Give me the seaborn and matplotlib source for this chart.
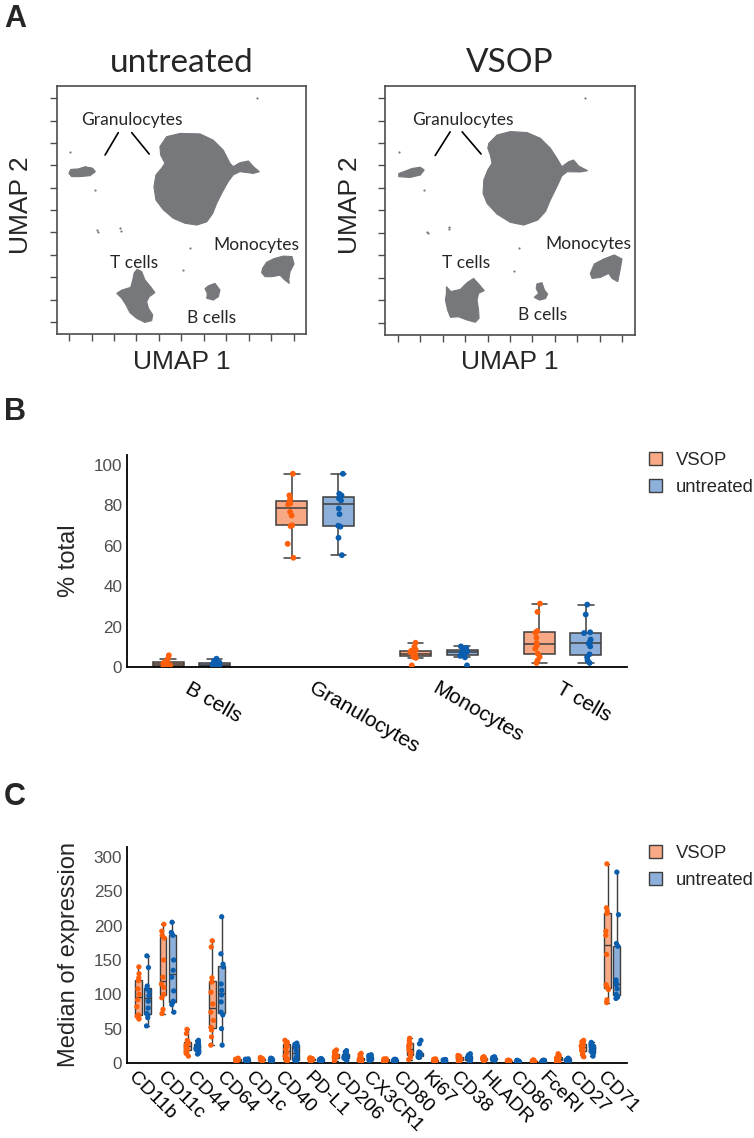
import numpy as np
import pandas as pd
import matplotlib
matplotlib.use("Agg")
import matplotlib.pyplot as plt
from matplotlib.patches import Patch
from matplotlib.transforms import ScaledTranslation
import seaborn as sns

# ---------------- panel A : UMAP cluster outlines (UMAP units, axes 0-10) ----------------
untr_gran_big = [(4.14, 7.56), (4.41, 7.96), (4.95, 8.09), (5.75, 8.07), (6.28, 7.82), (6.68, 7.42),
                 (6.95, 6.89), (7.08, 6.75), (7.35, 6.91), (7.69, 6.98), (7.89, 6.75), (8.13, 6.55),
                 (7.89, 6.48), (7.35, 6.55), (7.08, 6.42), (6.88, 6.15), (6.62, 5.68), (6.42, 5.28),
                 (6.26, 4.87), (6.02, 4.53), (5.62, 4.40), (5.15, 4.47), (4.68, 4.67), (4.28, 5.01),
                 (3.98, 5.41), (3.90, 5.94), (3.98, 6.42), (4.21, 6.69), (4.34, 6.89), (4.17, 7.22)]
untr_gran_small = [(0.49, 6.48), (0.56, 6.64), (0.87, 6.66), (1.14, 6.75), (1.44, 6.69), (1.55, 6.55),
                   (1.34, 6.39), (0.93, 6.35), (0.60, 6.35)]
untr_tcells = [(3.23, 2.62), (3.41, 2.52), (3.54, 2.19), (3.74, 1.95), (3.94, 1.68), (3.71, 1.51),
               (3.61, 1.31), (3.68, 1.05), (3.85, 0.78), (3.81, 0.55), (3.54, 0.48), (3.21, 0.64),
               (2.94, 0.87), (2.78, 1.18), (2.61, 1.45), (2.41, 1.65), (2.61, 1.78), (2.97, 1.89),
               (3.05, 2.19), (3.11, 2.48)]
untr_monocytes = [(8.26, 2.66), (8.42, 2.90), (8.72, 3.05), (9.09, 3.15), (9.44, 3.13), (9.52, 2.83),
                  (9.36, 2.52), (9.31, 2.21), (9.33, 2.05), (9.12, 2.21), (8.96, 2.38), (8.62, 2.32),
                  (8.36, 2.32), (8.22, 2.48)]
untr_bcells = [(6.08, 1.95), (6.35, 2.05), (6.55, 1.78), (6.48, 1.51), (6.28, 1.38), (6.02, 1.45),
               (6.04, 1.65), (5.95, 1.84)]
untr_specks = [(1.60, 4.20), (1.66, 4.14), (2.54, 4.27), (2.56, 4.18), (5.08, 2.59), (8.02, 9.50),
               (0.53, 7.35), (1.54, 5.81), (5.35, 3.46)]

vsop_gran_big = [(4.15, 7.69), (4.48, 8.02), (5.01, 8.16), (5.68, 8.12), (6.22, 7.89), (6.62, 7.49),
                 (6.88, 7.09), (7.08, 6.75), (7.35, 6.95), (7.55, 7.02), (7.75, 6.78), (8.11, 6.59),
                 (7.82, 6.54), (7.29, 6.55), (7.08, 6.38), (6.88, 5.95), (6.62, 5.42), (6.42, 4.95),
                 (6.11, 4.61), (5.55, 4.41), (5.01, 4.52), (4.48, 4.85), (4.08, 5.28), (3.92, 5.68),
                 (3.95, 6.22), (4.11, 6.62), (4.28, 6.89), (4.21, 7.22), (4.11, 7.49)]
vsop_gran_small = [(0.54, 6.48), (0.74, 6.55), (1.07, 6.68), (1.40, 6.73), (1.56, 6.62), (1.41, 6.42),
                   (1.00, 6.32), (0.54, 6.35)]
vsop_tcells = [(2.45, 1.94), (2.63, 1.74), (3.01, 1.83), (3.28, 2.10), (3.54, 2.27), (3.74, 2.05),
               (3.97, 1.78), (3.74, 1.67), (3.68, 1.40), (3.74, 1.00), (3.76, 0.67), (3.61, 0.51),
               (3.28, 0.60), (2.94, 0.73), (2.61, 0.71), (2.50, 1.00), (2.41, 1.40), (2.45, 1.67)]
vsop_monocytes = [(8.22, 2.47), (8.38, 2.85), (8.76, 3.05), (9.18, 3.21), (9.49, 3.05), (9.42, 2.64),
                  (9.32, 2.14), (9.09, 2.27), (8.96, 2.47), (8.62, 2.31), (8.29, 2.27)]
vsop_bcells = [(6.08, 2.05), (6.28, 2.10), (6.38, 1.81), (6.51, 1.64), (6.42, 1.46), (6.19, 1.40),
               (5.97, 1.51), (6.15, 1.67), (6.05, 1.87)]
vsop_specks = [(1.67, 4.14), (1.72, 4.08), (2.54, 4.34), (2.56, 4.25), (5.15, 2.58), (8.02, 9.49),
               (0.54, 7.35), (1.54, 5.82), (5.35, 3.48)]

# ---------------- panel B : % of total ----------------
b_categories = ["B cells", "Granulocytes", "Monocytes", "T cells"]
b_vsop = [
    [0.2, 0.3, 0.5, 0.7, 0.9, 1.1, 1.4, 1.8, 2.4, 2.7, 4.1, 5.8],
    [54.1, 61.0, 69.8, 70.2, 75.0, 76.8, 80.5, 81.0, 82.0, 83.3, 85.0, 95.7],
    [0.8, 4.5, 5.0, 5.4, 5.8, 6.4, 6.8, 7.3, 8.0, 8.6, 10.0, 12.0],
    [2.0, 3.3, 5.0, 6.6, 9.1, 10.5, 11.9, 14.5, 17.0, 17.8, 27.3, 31.4],
]
b_untreated = [
    [0.2, 0.3, 0.4, 0.6, 0.8, 1.0, 1.2, 1.5, 1.9, 2.2, 3.0, 4.1],
    [55.4, 64.0, 69.5, 70.0, 75.7, 78.5, 82.5, 83.5, 84.0, 85.0, 85.8, 95.7],
    [0.8, 4.8, 5.5, 6.0, 6.5, 7.0, 7.6, 8.0, 8.5, 8.8, 9.5, 10.2],
    [2.0, 3.3, 4.8, 6.3, 10.2, 11.6, 12.2, 13.6, 16.8, 17.2, 26.0, 30.9],
]

# ---------------- panel C : median expression per marker ----------------
c_markers = ["m%02d" % (i + 1) for i in range(20)]
c_tick_labels = ["CD11b", "CD11c", "CD44", "CD64", "CD1c", "CD40", "PD-L1", "CD206", "CX3CR1",
                 "CD80", "Ki67", "CD38", "HLADR", "CD86", "FceRI", "CD27", "CD71"]
c_vsop = [
    [64, 66, 68, 70, 82, 92, 100, 108, 120, 124, 130, 140],
    [72, 78, 95, 100, 110, 115, 125, 150, 182, 186, 192, 202],
    [10, 14, 17, 19, 22, 24, 26, 28, 30, 33, 43, 49],
    [26, 38, 48, 52, 62, 74, 86, 103, 118, 124, 169, 178],
    [2, 3, 3, 3.5, 4, 4, 4.5, 5, 5, 5.5, 6, 7],
    [3, 3.5, 4, 4.5, 5, 5, 5.5, 6, 6, 6.5, 7, 8],
    [3, 4, 5, 6, 10, 15, 20, 24, 27, 28, 30, 33],
    [3, 3.5, 4, 4.5, 5, 5, 5.5, 6, 6, 6.5, 7, 7.5],
    [3, 5, 6, 7, 8, 9, 10, 11, 13, 15, 17, 19],
    [2, 3, 3, 4, 4, 5, 5, 6, 7, 9, 12, 14],
    [2, 3, 3, 3.5, 4, 4, 4.5, 5, 5, 5.5, 6, 6],
    [5, 8, 10, 12, 15, 18, 22, 25, 28, 30, 33, 36],
    [2, 2.5, 3, 3, 3.5, 4, 4, 4.5, 5, 5, 5.5, 6],
    [1.5, 2, 3, 4, 5, 6, 7, 8, 9, 9.5, 10, 11],
    [3, 4, 4.5, 5, 5.5, 6, 6.5, 7, 7.5, 8, 8.5, 9],
    [1, 1.5, 2, 2, 2.5, 2.5, 3, 3, 3.5, 3.5, 4, 4],
    [1, 1.5, 2, 2, 2.5, 3, 3, 3.5, 3.5, 4, 4, 4.5],
    [1.5, 2.5, 3.5, 4.5, 5, 6, 7, 8, 9, 10, 11.5, 13.5],
    [9, 12, 15, 18, 20, 22, 24, 25, 27, 29, 31, 33],
    [88, 92, 107, 110, 114, 158, 186, 192, 218, 221, 226, 290],
]
c_untreated = [
    [54, 66, 70, 72, 80, 90, 98, 104, 108, 112, 139, 156],
    [74, 85, 88, 90, 105, 125, 135, 150, 186, 189, 190, 205],
    [13, 15, 17, 19, 21, 22, 23, 25, 27, 29, 31, 33],
    [26, 50, 70, 74, 89, 99, 106, 115, 140, 144, 159, 213],
    [2, 2.5, 3, 3, 3.5, 4, 4, 4.5, 5, 5, 5.5, 6],
    [2.5, 3, 3.5, 4, 4, 4.5, 5, 5, 5.5, 6, 6.5, 7],
    [3, 4, 4.5, 5, 8, 12, 18, 22, 25, 26, 27, 29],
    [2.5, 3, 3, 3.5, 4, 4, 4.5, 5, 5, 5.5, 6, 6.5],
    [4, 6, 7, 8, 9, 10, 11, 12, 13, 14, 16, 18],
    [3, 4, 5, 5, 6, 6, 7, 8, 9, 10, 11, 12],
    [1.5, 2, 2.5, 3, 3, 3.5, 4, 4, 4.5, 5, 5, 5.5],
    [8, 9, 10, 11, 12, 12, 13, 14, 15, 16, 28, 33],
    [1.5, 2, 2.5, 3, 3, 3.5, 3.5, 4, 4, 4.5, 5, 5],
    [2, 3, 4, 5, 6, 7, 8, 9, 10, 11, 12, 13.5],
    [4, 4.5, 5, 5.5, 6, 6, 6.5, 7, 7.5, 8, 8.5, 9],
    [1, 1.5, 1.5, 2, 2, 2.5, 2.5, 3, 3, 3.5, 3.5, 4],
    [1, 1.5, 2, 2, 2.5, 2.5, 3, 3, 3.5, 3.5, 4, 4],
    [1.5, 2, 2.5, 3, 3.5, 4, 4.5, 5, 5.5, 6, 6.5, 7],
    [10, 13, 15, 17, 19, 21, 22, 23, 25, 27, 28, 30],
    [94, 96, 98, 100, 108, 114, 116, 121, 170, 174, 216, 278],
]

groups = ["VSOP", "untreated"]
box_colors = ["#F7A985", "#8DB0DA"]
dot_colors = ["#FF5F0A", "#0B5DAE"]
umap_gray = "#76787B"
edge_gray = "#3d3d3d"


def long_table(categories, vsop, untreated):
    rows = []
    for cat, v, u in zip(categories, vsop, untreated):
        rows += [(cat, "VSOP", x) for x in v]
        rows += [(cat, "untreated", x) for x in u]
    return pd.DataFrame(rows, columns=["cat", "group", "value"])


def draw_umap(ax, clusters, specks, title, notes, lines):
    for poly in clusters:
        xs, ys = zip(*poly)
        ax.fill(xs, ys, color=umap_gray, lw=0.8)
    sx, sy = zip(*specks)
    ax.scatter(sx, sy, s=2.5, color=umap_gray, lw=0)
    ax.set_xlim(0, 10)
    ax.set_ylim(0, 10)
    ticks = np.arange(0.5, 9.6, 0.9)
    ax.set_xticks(ticks)
    ax.set_yticks(ticks)
    ax.set_xticklabels([])
    ax.set_yticklabels([])
    ax.tick_params(bottom=True, left=True, length=5, width=1, color="#4d4d4d",
                   direction="out")
    for sp in ax.spines.values():
        sp.set_visible(True)
        sp.set_color("#4d4d4d")
        sp.set_linewidth(1.2)
    ax.set_title(title, fontsize=24, family="Lato", pad=10)
    ax.set_xlabel("UMAP 1", fontsize=19)
    ax.set_ylabel("UMAP 2", fontsize=19)
    ax.xaxis.set_label_coords(0.5, -0.062)
    ax.yaxis.set_label_coords(-0.095, 0.52)
    for txt, (x, y) in notes:
        ax.text(x, y, txt, transform=ax.transAxes, ha="center", va="center",
                fontsize=12.5, family="Lato")
    for (x0, y0), (x1, y1) in lines:
        ax.plot([x0, x1], [y0, y1], transform=ax.transAxes, color="black", lw=1.2)


def main():
    np.random.seed(7)
    sns.set_style("white")
    plt.rcParams["font.family"] = ["Liberation Sans", "DejaVu Sans"]

    fig = plt.figure(figsize=(7.54, 11.38), dpi=100)
    W, H = 754.0, 1138.0

    def px_axes(x0, y_top, x1, y_bot):
        return fig.add_axes([x0 / W, 1 - y_bot / H, (x1 - x0) / W, (y_bot - y_top) / H])

    # ---- A ----
    ax_a1 = px_axes(56.7, 86, 306, 334.3)
    ax_a2 = px_axes(385.3, 85.7, 634.7, 335)
    draw_umap(ax_a1, [untr_gran_big, untr_gran_small, untr_tcells, untr_monocytes, untr_bcells],
              untr_specks, "untreated",
              [("Granulocytes", (0.301, 0.863)), ("Monocytes", (0.802, 0.36)),
               ("T cells", (0.311, 0.286)), ("B cells", (0.62, 0.064))],
              [((0.247, 0.812), (0.194, 0.722)), ((0.301, 0.812), (0.371, 0.726))])
    draw_umap(ax_a2, [vsop_gran_big, vsop_gran_small, vsop_tcells, vsop_monocytes, vsop_bcells],
              vsop_specks, "VSOP",
              [("Granulocytes", (0.312, 0.862)), ("Monocytes", (0.813, 0.365)),
               ("T cells", (0.323, 0.29)), ("B cells", (0.629, 0.08))],
              [((0.26, 0.815), (0.2, 0.72)), ((0.308, 0.815), (0.384, 0.726))])

    # ---- B ----
    df_b = long_table(b_categories, b_vsop, b_untreated)
    ax_b = px_axes(127, 455, 627, 667)
    sns.boxplot(data=df_b, x="cat", y="value", hue="group", order=b_categories,
                hue_order=groups, palette=box_colors, width=0.75, gap=0.333,
                showfliers=False, linecolor=edge_gray, linewidth=1.1, saturation=1,
                legend=False, ax=ax_b)
    sns.stripplot(data=df_b, x="cat", y="value", hue="group", order=b_categories,
                  hue_order=groups, palette=dot_colors, dodge=True, jitter=0.06,
                  size=4.2, linewidth=0, legend=False, ax=ax_b, zorder=3)
    ax_b.set_xlim(-0.52, 3.52)
    ax_b.set_ylim(0, 105)
    ax_b.set_yticks([0, 20, 40, 60, 80, 100])

    # ---- C ----
    df_c = long_table(c_markers, c_vsop, c_untreated)
    ax_c = px_axes(127, 846.7, 627, 1063)
    sns.boxplot(data=df_c, x="cat", y="value", hue="group", order=c_markers,
                hue_order=groups, palette=box_colors, width=0.75, gap=0.28,
                showfliers=False, linecolor=edge_gray, linewidth=1.0, saturation=1,
                legend=False, ax=ax_c)
    sns.stripplot(data=df_c, x="cat", y="value", hue="group", order=c_markers,
                  hue_order=groups, palette=dot_colors, dodge=True, jitter=0.12,
                  size=3.8, linewidth=0, legend=False, ax=ax_c, zorder=3)
    ax_c.set_xlim(-0.65, 19.6)
    ax_c.set_ylim(0, 315)
    ax_c.set_yticks([0, 50, 100, 150, 200, 250, 300])
    ax_c.set_xticks(np.linspace(0, len(c_markers) - 1, len(c_tick_labels)))
    ax_c.set_xticklabels(c_tick_labels)

    for ax, ylab, rot, xfs, xpad in [(ax_b, "% total", -30, 15, 8.5),
                                     (ax_c, "Median of expression", -45, 14, 4)]:
        sns.despine(ax=ax)
        for side in ["left", "bottom"]:
            ax.spines[side].set_color("black")
            ax.spines[side].set_linewidth(1.3)
        ax.set_xlabel("")
        ax.set_ylabel(ylab, fontsize=17)
        ax.yaxis.set_label_coords(-0.094, 0.5)
        ax.tick_params(axis="y", length=0, pad=3.5, labelsize=12.3, labelcolor="#4d4d4d")
        ax.tick_params(axis="x", length=0, pad=xpad, labelsize=xfs, labelcolor="black")
        for lab in ax.get_xticklabels():
            lab.set_rotation(rot)
            lab.set_rotation_mode("anchor")
            lab.set_ha("left")
            lab.set_va("top")
    shift = ScaledTranslation(-6 / 100, 0, fig.dpi_scale_trans)
    for lab in ax_c.get_xticklabels():
        lab.set_transform(lab.get_transform() + shift)

    handles = [Patch(facecolor=c, edgecolor=edge_gray, lw=1) for c in box_colors]
    for top in [452, 845]:
        fig.legend(handles, groups, loc="upper left", bbox_to_anchor=(649 / W, 1 - top / H),
                   frameon=False, borderpad=0, borderaxespad=0, handlelength=0.7,
                   handleheight=0.7, handletextpad=0.75, labelspacing=0.55, fontsize=13.3)

    for letter, y in [("A", 4), ("B", 397), ("C", 782)]:
        fig.text(4 / W, 1 - y / H, letter, fontsize=22, fontweight="bold", va="top", ha="left")

    fig.savefig("out.png", dpi=100)


if __name__ == "__main__":
    main()
